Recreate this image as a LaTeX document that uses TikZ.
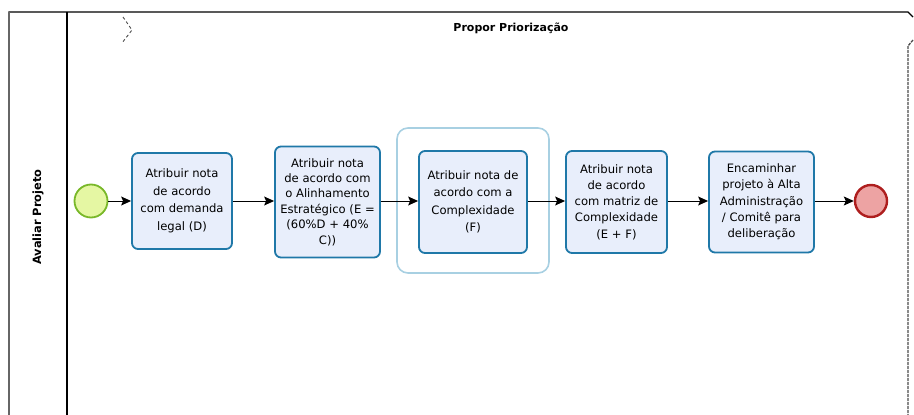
\documentclass[tikz,border=0pt]{standalone}
\usepackage{fontspec}
\setmainfont{DejaVu Sans}
\usetikzlibrary{arrows.meta}
\definecolor{taskfill}{HTML}{E8EEFB}
\definecolor{taskdraw}{HTML}{1F78A8}
\definecolor{grpdraw}{HTML}{A8D0E2}
\definecolor{startfill}{HTML}{E5F7A3}
\definecolor{startdraw}{HTML}{79B829}
\definecolor{endfill}{HTML}{EDA3A3}
\definecolor{enddraw}{HTML}{AE1E1E}
\tikzset{
  task/.style={draw=taskdraw, fill=taskfill, line width=1.8pt, rounded corners=6pt,
    align=center, inner sep=0pt, font=\fontsize{11.6}{#1}\selectfont},
  task/.default=17.5,
  grp/.style={draw=grpdraw, line width=1.6pt, rounded corners=11pt},
  flow/.style={-{Stealth[length=10pt,width=9pt,inset=2pt]}, line width=1pt},
  poolline/.style={line width=1.1pt},
  label/.style={font=\bfseries\fontsize{11}{13}\selectfont},
}
\begin{document}
\begin{tikzpicture}[x=1pt,y=-1pt]
\useasboundingbox (0,0) rectangle (914,415);
% pool / lane
\draw[poolline, line join=miter] (9,415) -- (9,12) -- (908,12) -- (913,17);
\draw[line width=1.6pt, black!60] (9,12) -- (9,415);
\draw[poolline] (67,12) -- (67,415);
\draw[black!70, line width=1.3pt, dash pattern=on 3pt off 1pt] (913,40) -- (908,46) -- (908,415);
\draw[black!70, line width=0.9pt, dash pattern=on 3pt off 2.5pt] (123,17) -- (132,30) -- (122,43);
\node[label] (title) at (511,28) {Propor Priorização};
\node[label, font=\bfseries\fontsize{11.4}{13}\selectfont, rotate=90] (lane) at (38,217) {Avaliar Projeto};
% group
\draw[grp] (397,128) rectangle (549,273);
% nodes
\node[circle, draw=startdraw, fill=startfill, line width=1.8pt, minimum size=33pt, inner sep=0pt] (start) at (91,201) {};
\node[task, minimum width=100pt, minimum height=96pt] (t1) at (182,201) {Atribuir nota\\de acordo\\com demanda\\legal (D)};
\node[task=15.4, minimum width=105pt, minimum height=111pt] (t2) at (327.5,202) {Atribuir nota\\de acordo com\\o Alinhamento\\Estratégico (E =\\(60\%D + 40\%\\C))};
\node[task, minimum width=108pt, minimum height=102pt] (t3) at (473,202) {Atribuir nota de\\acordo com a\\Complexidade\\(F)};
\node[task=16.3, minimum width=101pt, minimum height=102pt] (t4) at (616.5,202) {Atribuir nota\\de acordo\\com matriz de\\Complexidade\\(E + F)};
\node[task=16.3, minimum width=105pt, minimum height=101pt] (t5) at (761.5,202) {Encaminhar\\projeto à Alta\\Administração\\/ Comitê para\\deliberação};
\node[circle, draw=enddraw, fill=endfill, line width=2.4pt, minimum size=32pt, inner sep=0pt] (end) at (871,201) {};
% flows
\draw[flow] (start.east) -- (t1.west |- start.east);
\draw[flow] (t1.east) -- (t1.east -| t2.west);
\draw[flow] (t2.east |- t1.east) -- (t3.west |- t1.east);
\draw[flow] (t3.east |- t1.east) -- (t4.west |- t1.east);
\draw[flow] (t4.east |- t1.east) -- (t5.west |- t1.east);
\draw[flow] (t5.east |- t1.east) -- (end.west);
\end{tikzpicture}
\end{document}
